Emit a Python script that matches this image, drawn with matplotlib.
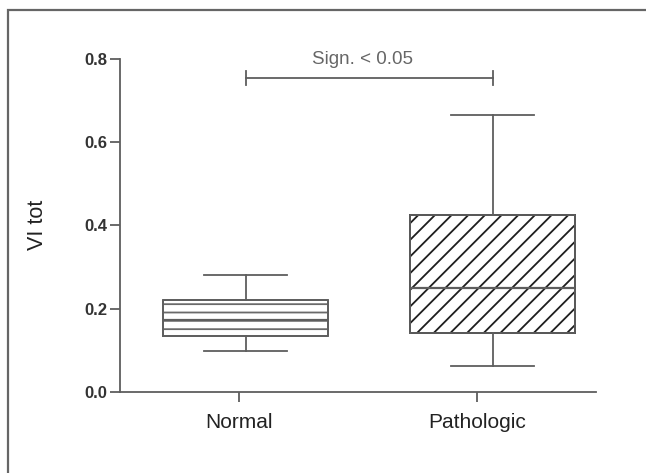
import matplotlib

matplotlib.use("Agg")
import matplotlib.pyplot as plt  # noqa: E402
from matplotlib.patches import Rectangle  # noqa: E402

plt.rcParams["font.family"] = ["Liberation Sans", "DejaVu Sans"]
plt.rcParams["hatch.linewidth"] = 1.3

GROUPS = ["Normal", "Pathologic"]
BOX_POS = [1.0, 2.0]          # box centres
TICK_POS = [0.972, 1.935]     # category ticks sit slightly left of the boxes
Q1 = [0.134, 0.141]
MED = [0.173, 0.249]
Q3 = [0.221, 0.424]
WLO = [0.099, 0.063]
WHI = [0.281, 0.664]
HATCHES = ["--", "//"]
HATCH_COLORS = ["#6a6a6a", "#1e1e1e"]
SIG_TEXT = "Sign. < 0.05"
SIG_Y = 0.753
YTICKS = [0.0, 0.2, 0.4, 0.6, 0.8]
GRAY = "#5e5e5e"

fig = plt.figure(figsize=(6.46, 4.73), dpi=100)
ax = fig.add_axes([120 / 646, 1 - 392 / 473, 476 / 646, (392 - 58.5) / 473])

stats = [
    dict(label=g, q1=a, med=m, q3=b, whislo=lo, whishi=hi, fliers=[])
    for g, a, m, b, lo, hi in zip(GROUPS, Q1, MED, Q3, WLO, WHI)
]
res = ax.bxp(
    stats, positions=BOX_POS, widths=0.668, capwidths=0.336, patch_artist=True,
    showfliers=False,
    boxprops=dict(facecolor="white", edgecolor=GRAY, linewidth=1.3),
    whiskerprops=dict(color=GRAY, linewidth=1.3),
    capprops=dict(color=GRAY, linewidth=1.3),
    medianprops=dict(color=GRAY, linewidth=1.6),
)
for box, h, hc in zip(res["boxes"], HATCHES, HATCH_COLORS):
    box.set_hatch(h)
    box.set_edgecolor(hc)
# redraw outline in gray over the hatch colour
for box in res["boxes"]:
    xy = box.get_path().vertices
    ax.plot(xy[:, 0], xy[:, 1], color=GRAY, lw=1.3, zorder=3)
for med in res["medians"]:
    med.set_zorder(4)

# significance bar
ax.plot([BOX_POS[0], BOX_POS[1]], [SIG_Y, SIG_Y], color=GRAY, lw=1.3, clip_on=False)
for xp in BOX_POS:
    ax.plot([xp, xp], [SIG_Y - 0.017, SIG_Y + 0.017], color=GRAY, lw=1.3, clip_on=False)
ax.text(sum(BOX_POS) / 2 - 0.03, SIG_Y + 0.025, SIG_TEXT, ha="center", va="bottom",
        fontsize=13.5, color="#666666", clip_on=False)

ax.set_xlim(0.49, 2.417)
ax.set_ylim(0, 0.8)
ax.set_xticks(TICK_POS)
ax.set_xticklabels(GROUPS, fontsize=15, color="#222222")
ax.set_yticks(YTICKS)
ax.set_yticklabels([f"{v:.1f}" for v in YTICKS], fontsize=12, fontweight="bold",
                   color="#333333")
ax.set_ylabel("VI tot", fontsize=15.5, color="#222222", labelpad=26)
ax.tick_params(axis="x", length=7, width=1.3, color=GRAY, pad=8)
ax.tick_params(axis="y", length=7, width=1.3, color=GRAY, pad=2)

for side in ("top", "right"):
    ax.spines[side].set_visible(False)
for side in ("left", "bottom"):
    ax.spines[side].set_color(GRAY)
    ax.spines[side].set_linewidth(1.3)

# partial frame of the cropped figure (top and left edges only)
fig.add_artist(Rectangle((8 / 646, -0.2), 1.2, 1.2 - 10 / 473, transform=fig.transFigure,
                         fill=False, edgecolor="#666666", linewidth=1.6))

fig.savefig("out.png", dpi=100)
